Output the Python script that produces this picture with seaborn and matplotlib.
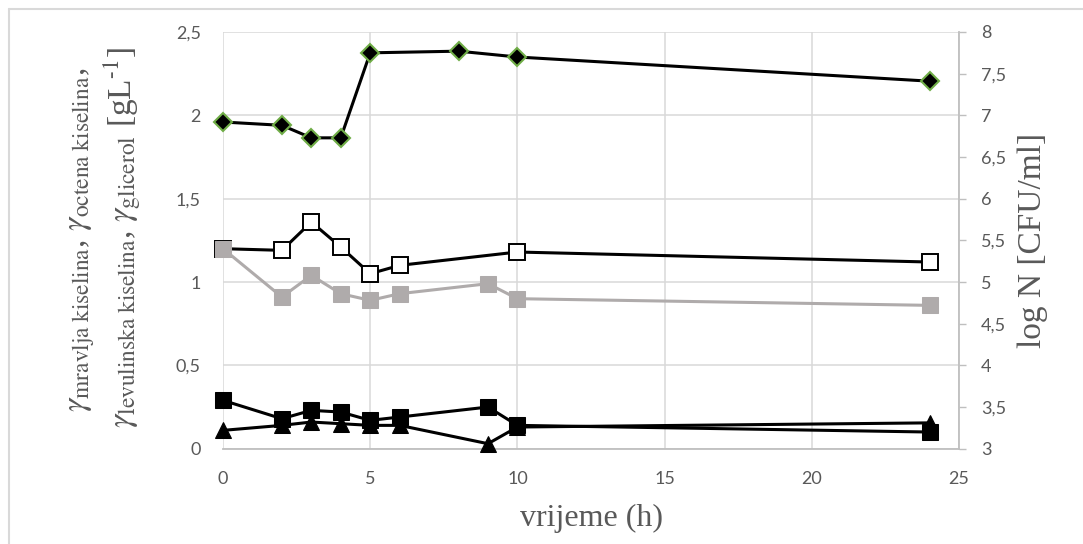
import numpy as np
import pandas as pd
import matplotlib
matplotlib.use('Agg')
import matplotlib.pyplot as plt
import seaborn as sns
from matplotlib.lines import Line2D
from matplotlib.ticker import FuncFormatter

# Vrijednosti očitane s grafa
t_logN = [0, 2, 3, 4, 5, 8, 10, 24]
logN = [6.92, 6.88, 6.73, 6.73, 7.75, 7.77, 7.70, 7.41]

t_otvoreni = [0, 2, 3, 4, 5, 6, 10, 24]
y_otvoreni = [1.20, 1.19, 1.36, 1.21, 1.05, 1.10, 1.18, 1.12]

t_sivi = [0, 2, 3, 4, 5, 6, 9, 10, 24]
y_sivi = [1.20, 0.91, 1.04, 0.93, 0.89, 0.93, 0.99, 0.90, 0.86]

t_crni = [0, 2, 3, 4, 5, 6, 9, 10, 24]
y_crni = [0.29, 0.18, 0.23, 0.22, 0.17, 0.19, 0.25, 0.14, 0.10]

t_trokut = [0, 2, 3, 4, 5, 6, 9, 10, 24]
y_trokut = [0.11, 0.14, 0.16, 0.15, 0.14, 0.14, 0.03, 0.13, 0.155]

x_ticks = [0, 5, 10, 15, 20, 25]
y_ticks = [0, 0.5, 1, 1.5, 2, 2.5]
y2_ticks = [3, 3.5, 4, 4.5, 5, 5.5, 6, 6.5, 7, 7.5, 8]

sns.set_style('white')
plt.rcParams['mathtext.fontset'] = 'stix'
plt.rcParams['font.family'] = ['Lato', 'DejaVu Sans']

siva_txt = '#595959'
siva_os = '#bfbfbf'
siva_grid = '#d9d9d9'

fig = plt.figure(figsize=(10.83, 5.44), dpi=100)
W, H = 1083, 544
ax = fig.add_axes([223 / W, 1 - 448.7 / H, (959 - 223) / W, (448.7 - 32) / H])
ax2 = ax.twinx()

df_o = pd.DataFrame({'t': t_otvoreni, 'y': y_otvoreni})
df_s = pd.DataFrame({'t': t_sivi, 'y': y_sivi})
df_c = pd.DataFrame({'t': t_crni, 'y': y_crni})
df_tr = pd.DataFrame({'t': t_trokut, 'y': y_trokut})
df_n = pd.DataFrame({'t': t_logN, 'y': logN})

sns.lineplot(data=df_tr, x='t', y='y', ax=ax, color='black', lw=2.2, marker='^',
             markersize=11, markerfacecolor='black', markeredgecolor='black',
             zorder=3, clip_on=False)
sns.lineplot(data=df_c, x='t', y='y', ax=ax, color='black', lw=2.2, marker='s',
             markersize=12, markerfacecolor='black', markeredgecolor='black',
             zorder=4, clip_on=False)
sns.lineplot(data=df_o, x='t', y='y', ax=ax, color='black', lw=2.2, marker='s',
             markersize=11, markerfacecolor='white', markeredgecolor='black',
             markeredgewidth=1.4, zorder=3, clip_on=False)
sns.lineplot(data=df_s, x='t', y='y', ax=ax, color='#afabab', lw=2.2, marker='s',
             markersize=11, markerfacecolor='#afabab', markeredgecolor='#afabab',
             zorder=4, clip_on=False)
sns.lineplot(data=df_n, x='t', y='y', ax=ax2, color='black', lw=2.2, marker='D',
             markersize=9.5, markerfacecolor='black', markeredgecolor='#70ad47',
             markeredgewidth=1.5, zorder=3, clip_on=False)

ax.set_xlim(0, 25)
ax.set_ylim(0, 2.5)
ax2.set_ylim(3, 8)
ax.set_xticks(x_ticks)
ax.set_yticks(y_ticks)
ax2.set_yticks(y2_ticks)

zarez = FuncFormatter(lambda v, p: ('%g' % v).replace('.', ','))
ax.yaxis.set_major_formatter(zarez)
ax2.yaxis.set_major_formatter(zarez)
ax.xaxis.set_major_formatter(zarez)

ax.grid(True, color=siva_grid, lw=1.1)
ax.set_axisbelow(True)
ax2.grid(False)
for a in (ax, ax2):
    for s in a.spines.values():
        s.set_visible(False)
ax2.spines['right'].set_visible(True)
ax2.spines['right'].set_color(siva_os)
ax2.spines['right'].set_linewidth(1.3)
ax.spines['bottom'].set_visible(True)
ax.spines['bottom'].set_color(siva_os)
ax.spines['bottom'].set_linewidth(1.3)

ax.tick_params(axis='both', length=0, labelsize=13, labelcolor=siva_txt)
ax.tick_params(axis='x', pad=16)
ax.tick_params(axis='y', pad=16)
ax2.tick_params(axis='y', length=5, width=1, color=siva_os, labelsize=13,
                labelcolor=siva_txt, pad=11, direction='out')

ax.set_xlabel('vrijeme (h)', family='Liberation Serif', fontsize=23, color=siva_txt, labelpad=12)
ax.set_ylabel('')
ax2.set_ylabel('log N [CFU/ml]', family='Liberation Serif', fontsize=24, color=siva_txt,
               labelpad=8)

red1 = r'$\gamma_{\mathrm{mravlja\ kiselina}}$, $\gamma_{\mathrm{octena\ kiselina}}$,'
red2 = r'$\gamma_{\mathrm{levulinska\ kiselina}}$, $\gamma_{\mathrm{glicerol}}$ [gL$^{\text{-1}}$]'
fig.text(82 / W, 1 - 240 / H, red1, rotation=90, ha='center', va='center',
         family='Liberation Serif', fontsize=24, color=siva_txt)
fig.text(122 / W, 1 - 237 / H, red2, rotation=90, ha='center', va='center',
         family='Liberation Serif', fontsize=24, color=siva_txt)

# okvir oko grafikona
fig.add_artist(Line2D([8.5 / W, 8.5 / W], [0, 1 - 8.5 / H], transform=fig.transFigure,
                      color=siva_grid, lw=1.5))
fig.add_artist(Line2D([8.5 / W, 1], [1 - 8.5 / H, 1 - 8.5 / H], transform=fig.transFigure,
                      color=siva_grid, lw=1.5))

fig.savefig('out.png', dpi=100)
